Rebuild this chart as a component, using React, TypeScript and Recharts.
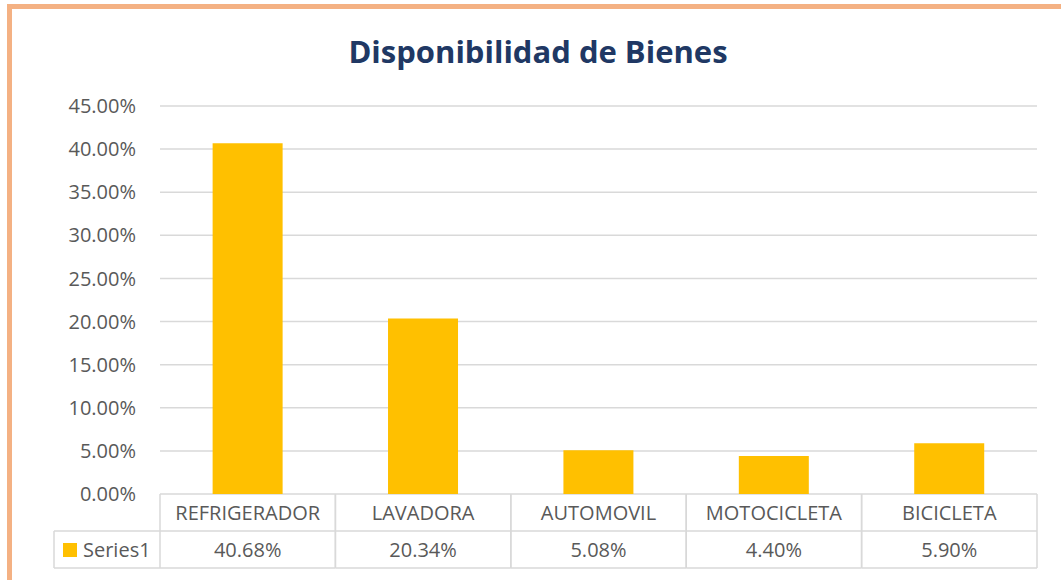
import React from "react";
import { Bar, BarChart, CartesianGrid, XAxis, YAxis } from "recharts";

const categories = ["REFRIGERADOR", "LAVADORA", "AUTOMOVIL", "MOTOCICLETA", "BICICLETA"];
const values = [40.68, 20.34, 5.08, 4.4, 5.9];
const yTicks = [0, 5, 10, 15, 20, 25, 30, 35, 40, 45];
const seriesName = "Series1";

const data = categories.map((name, i) => ({ name, value: values[i] }));

const FONT = "'Open Sans', sans-serif";
const GRID = "#D9D9D9";
const TEXT = "#595959";
const BAR = "#FFC000";
const ROW_H = 37;
const LEGEND_LEFT = 54;
const FS = 20;

function TableTick(props: any) {
    const { x, y, payload, index } = props;
    const band = 175.4;
    const left = x - band / 2;
    const right = x + band / 2;
    return (
        <g>
            <line x1={left} y1={y} x2={left} y2={y + ROW_H * 2} stroke={GRID} strokeWidth={1.5} />
            <line x1={right} y1={y} x2={right} y2={y + ROW_H * 2} stroke={GRID} strokeWidth={1.5} />
            <line x1={left} y1={y + ROW_H} x2={right} y2={y + ROW_H} stroke={GRID} strokeWidth={1.5} />
            <line x1={left} y1={y + ROW_H * 2} x2={right} y2={y + ROW_H * 2} stroke={GRID} strokeWidth={1.5} />
            <text x={x} y={y + 26} textAnchor="middle" fill={TEXT} fontSize={FS} fontFamily={FONT}>
                {payload.value}
            </text>
            <text x={x} y={y + ROW_H + 26} textAnchor="middle" fill={TEXT} fontSize={FS} fontFamily={FONT}>
                {values[index].toFixed(2)}%
            </text>
            {index === 0 && (
                <g>
                    <line x1={LEGEND_LEFT} y1={y + ROW_H} x2={left} y2={y + ROW_H} stroke={GRID} strokeWidth={1.5} />
                    <line x1={LEGEND_LEFT} y1={y + ROW_H * 2} x2={left} y2={y + ROW_H * 2} stroke={GRID} strokeWidth={1.5} />
                    <line x1={LEGEND_LEFT} y1={y + ROW_H} x2={LEGEND_LEFT} y2={y + ROW_H * 2} stroke={GRID} strokeWidth={1.5} />
                    <rect x={63} y={y + ROW_H + 12} width={14} height={14} fill={BAR} />
                    <text x={83} y={y + ROW_H + 26} fill={TEXT} fontSize={FS} fontFamily={FONT}>
                        {seriesName}
                    </text>
                </g>
            )}
        </g>
    );
}

export default function App() {
    return (
        <div style={{ position: "absolute", left: 0, top: 0, width: 1061, height: 580, overflow: "hidden", background: "#fff" }}>
            <div
                style={{
                    position: "absolute",
                    left: 7,
                    top: 4,
                    width: 1200,
                    height: 600,
                    border: "5px solid #F4B183",
                    boxSizing: "border-box",
                    borderRight: "none",
                }}
            />
            <div
                style={{
                    position: "absolute",
                    left: 0,
                    top: 31,
                    width: 1076,
                    textAlign: "center",
                    fontFamily: FONT,
                    fontWeight: 700,
                    fontSize: 31,
                    lineHeight: "40px",
                    color: "#203864",
                }}>
                Disponibilidad de Bienes
            </div>
            <div style={{ position: "absolute", left: 0, top: 0 }}>
                <BarChart
                    width={1061}
                    height={580}
                    data={data}
                    margin={{ top: 106, right: 24, bottom: 0, left: 0 }}
                    barCategoryGap="30%">
                    <CartesianGrid vertical={false} stroke={GRID} strokeWidth={1.5} />
                    <XAxis
                        dataKey="name"
                        height={86}
                        axisLine={false}
                        tickLine={false}
                        tickSize={0}
                        tickMargin={0}
                        interval={0}
                        tick={<TableTick />}
                    />
                    <YAxis
                        width={160}
                        domain={[0, 45]}
                        ticks={yTicks}
                        axisLine={false}
                        tickLine={false}
                        tickSize={0}
                        tickMargin={24}
                        tickFormatter={(v: number) => `${v.toFixed(2)}%`}
                        tick={{ fill: TEXT, fontSize: FS, fontFamily: FONT }}
                    />
                    <Bar dataKey="value" fill={BAR} isAnimationActive={false} />
                </BarChart>
            </div>
        </div>
    );
}
